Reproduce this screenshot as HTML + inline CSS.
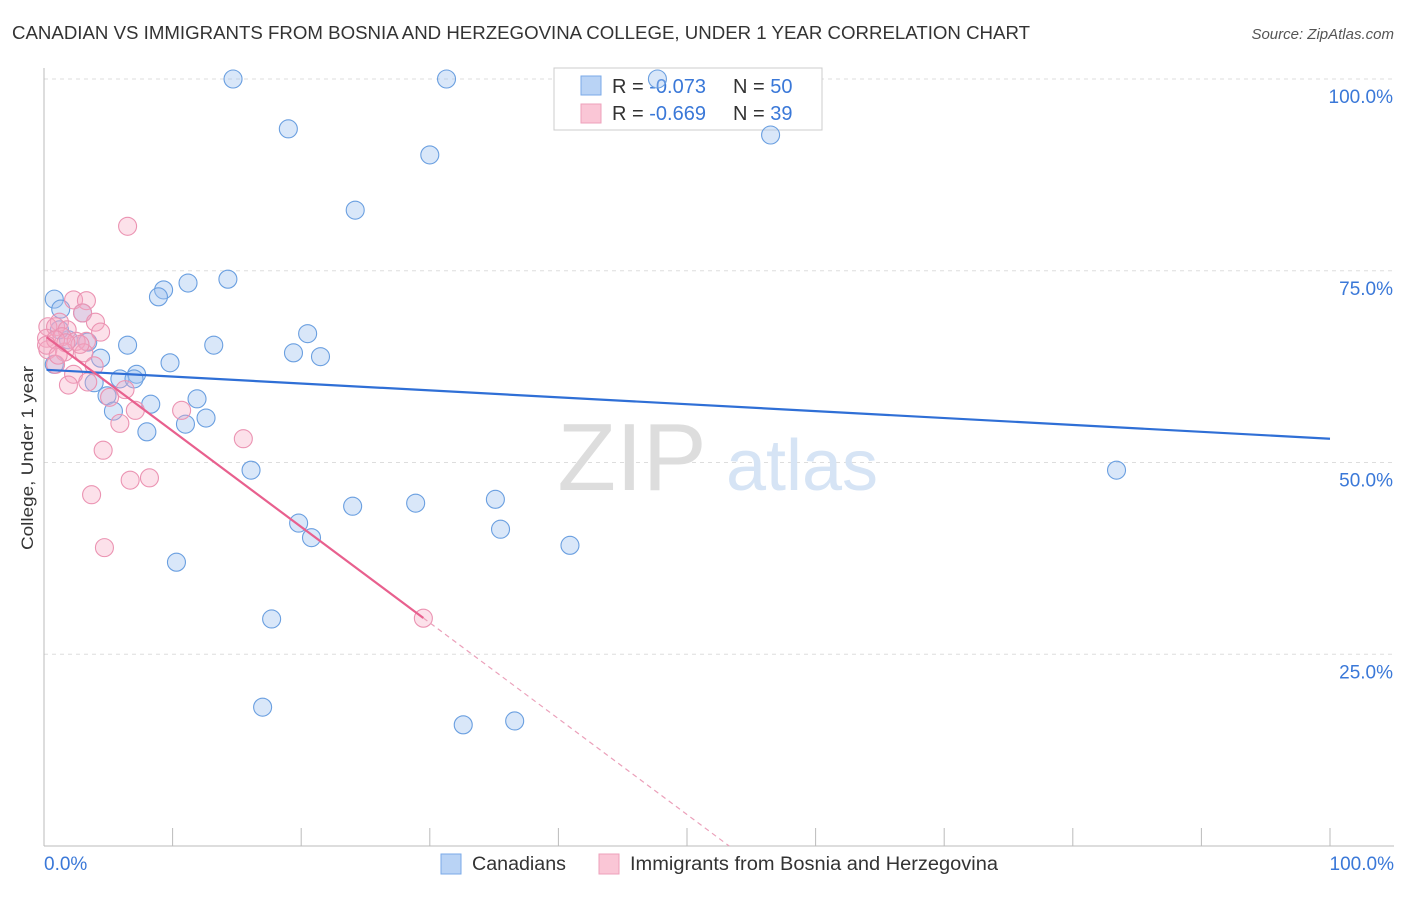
<!DOCTYPE html>
<html><head><meta charset="utf-8"><style>
body{margin:0;background:#fff;font-family:"Liberation Sans",sans-serif;}
svg text{font-family:"Liberation Sans",sans-serif;}
</style></head><body>
<svg id="chart" width="1406" height="892">
<text x="12" y="39" font-size="18" fill="#333" textLength="1018" lengthAdjust="spacingAndGlyphs">CANADIAN VS IMMIGRANTS FROM BOSNIA AND HERZEGOVINA COLLEGE, UNDER 1 YEAR CORRELATION CHART</text>
<text x="1394" y="39" font-size="15" fill="#555" font-style="italic" text-anchor="end">Source: ZipAtlas.com</text>
<g id="grid"></g>
<g><text x="632" y="490" font-size="96" fill="#ddd" font-family="Liberation Serif,serif" text-anchor="middle">ZIP</text><text x="802" y="490" font-size="72" fill="#d6e4f5" text-anchor="middle">atlas</text></g>
<line x1="44" y1="68" x2="44" y2="846" stroke="#bbb"/>
<line x1="44" y1="846" x2="1394" y2="846" stroke="#bbb"/>
<g id="ticks"></g>
<text x="33" y="458" font-size="17" fill="#333" text-anchor="middle" transform="rotate(-90 33 458)" textLength="184" lengthAdjust="spacingAndGlyphs">College, Under 1 year</text>
<text x="44" y="870" font-size="19" fill="#3a78d8">0.0%</text>
<text x="1394" y="870" font-size="19" fill="#3a78d8" text-anchor="end">100.0%</text>
<g>
<rect x="554" y="68" width="268" height="62" fill="#fff" stroke="#ccc"/>
<rect x="581" y="76" width="20" height="19" fill="#b9d3f5" stroke="#7aaae8"/>
<rect x="581" y="104" width="20" height="19" fill="#fac6d6" stroke="#eea0bb"/>
<text x="612" y="93" font-size="20" fill="#333">R = <tspan fill="#3a78d8">-0.073</tspan><tspan x="733">N = </tspan><tspan fill="#3a78d8">50</tspan></text>
<text x="612" y="120" font-size="20" fill="#333">R = <tspan fill="#3a78d8">-0.669</tspan><tspan x="733">N = </tspan><tspan fill="#3a78d8"> 39</tspan></text>
</g>
<g id="pts"></g>
<g id="lines"></g>
<g>
<rect x="441" y="854" width="20" height="20" fill="#b9d3f5" stroke="#7aaae8"/>
<text x="472" y="870" font-size="19" fill="#333" textLength="94" lengthAdjust="spacingAndGlyphs">Canadians</text>
<rect x="599" y="854" width="20" height="20" fill="#fac6d6" stroke="#eea0bb"/>
<text x="630" y="870" font-size="19" fill="#333" textLength="368" lengthAdjust="spacingAndGlyphs">Immigrants from Bosnia and Herzegovina</text>
</g>
</svg>
<script>
const yTicks=[25,50,75,100];
const yTickLabels=["25.0%","50.0%","75.0%","100.0%"];
const xTicks=[0,10,20,30,40,50,60,70,80,90,100];
const blueX=[14.7,31.3,47.7,19.0,30.0,56.5,24.2,14.3,11.2,9.3,8.9,0.8,1.3,3.0,20.5,6.5,13.2,19.4,21.5,4.4,9.8,0.8,3.4,1.9,7.2,5.9,7.0,3.9,4.9,11.9,8.3,5.4,12.6,11.0,8.0,16.1,83.4,35.1,28.9,24.0,19.8,20.8,35.5,40.9,10.3,17.7,17.0,32.6,36.6,1.2];
const blueY=[100,100,100,93.5,90.1,92.7,82.9,73.9,73.4,72.5,71.6,71.3,70.0,69.5,66.8,65.3,65.3,64.3,63.8,63.6,63.0,62.8,65.7,66.0,61.5,60.9,60.9,60.4,58.7,58.3,57.6,56.7,55.8,55.0,54.0,49.0,49.0,45.2,44.7,44.3,42.1,40.2,41.3,39.2,37.0,29.6,18.1,15.8,16.3,67.3];
const pinkX=[6.5,2.3,3.3,3.0,1.2,4.0,0.3,0.9,1.8,4.4,0.2,1.4,3.3,2.5,0.3,1.6,3.1,0.9,3.9,2.3,3.4,1.9,6.3,5.1,7.1,10.7,5.9,15.5,4.6,8.2,6.7,3.7,4.7,29.5,0.9,2.8,1.7,0.2,1.1];
const pinkY=[80.8,71.2,71.1,69.5,68.3,68.3,67.7,67.7,67.3,67.0,66.2,66.4,65.8,65.8,64.7,64.4,64.3,62.8,62.6,61.5,60.5,60.1,59.5,58.5,56.8,56.8,55.1,53.1,51.6,48.0,47.7,45.8,38.9,29.7,66.0,65.4,65.6,65.3,64.0];
const blueTrend=[62.1,-0.09];
const pinkTrend=[66.6,-1.25];
const pinkSolidEnd=29.5;
const NS="http://www.w3.org/2000/svg";
const sx=v=>44+v*12.86, sy=v=>846-v*7.67;
function mk(t,a,p){const e=document.createElementNS(NS,t);for(const k in a)e.setAttribute(k,a[k]);p.appendChild(e);return e;}
const grid=document.getElementById('grid');
yTicks.forEach((t,i)=>{
 const l=mk('line',{x1:44,x2:1394,y1:sy(t),y2:sy(t),stroke:'#ddd','stroke-dasharray':'4,4'},grid);
 
 
 const tx=mk('text',{x:1393,y:sy(t)+24,'font-size':19,fill:'#3a78d8','text-anchor':'end'},grid);
 tx.textContent=yTickLabels[i];
 
 
});
const tk=document.getElementById('ticks');
xTicks.forEach(t=>{const l=mk('line',{x1:sx(t),x2:sx(t),y1:828,y2:846,stroke:'#bbb'},tk);
 
 });
const pts=document.getElementById('pts');
blueX.forEach((x,i)=>{const c=mk('circle',{cx:sx(x),cy:sy(blueY[i]),r:9,fill:'rgba(160,196,240,0.4)',stroke:'#6a9fe0','stroke-width':1.1},pts);
 
 });
pinkX.forEach((x,i)=>{const c=mk('circle',{cx:sx(x),cy:sy(pinkY[i]),r:9,fill:'rgba(245,170,195,0.35)',stroke:'#eb93b2','stroke-width':1.1},pts);
 
 });
const lg=document.getElementById('lines');
const b=mk('line',{x1:sx(0.2),y1:sy(blueTrend[0]+blueTrend[1]*0.2),x2:sx(100),y2:sy(blueTrend[0]+blueTrend[1]*100),stroke:'#2f6fd6','stroke-width':2.2},lg);


const p=mk('line',{x1:sx(0.2),y1:sy(pinkTrend[0]+pinkTrend[1]*0.2),x2:sx(pinkSolidEnd),y2:sy(pinkTrend[0]+pinkTrend[1]*pinkSolidEnd),stroke:'#e8608e','stroke-width':2.2},lg);


const xz=-pinkTrend[0]/pinkTrend[1];
const pd=mk('line',{x1:sx(pinkSolidEnd),y1:sy(pinkTrend[0]+pinkTrend[1]*pinkSolidEnd),x2:sx(xz),y2:sy(0),stroke:'#eba0ba','stroke-width':1.2,'stroke-dasharray':'5,4'},lg);


</script>
</body></html>
